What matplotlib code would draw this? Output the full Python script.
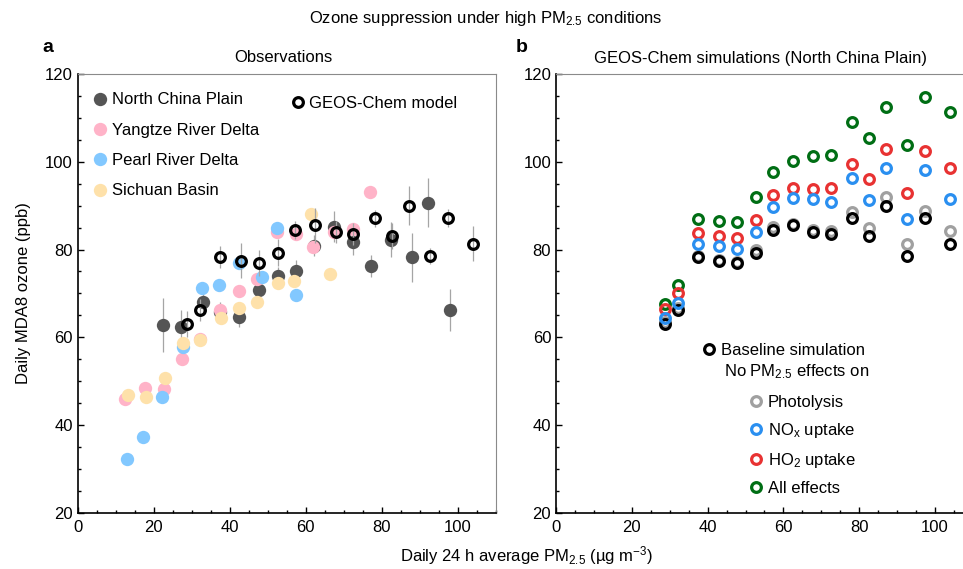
import numpy as np
import matplotlib
matplotlib.use("Agg")
from matplotlib import pyplot as plt
from matplotlib.lines import Line2D

plt.rcParams['font.family'] = ['Liberation Sans', 'DejaVu Sans']
plt.rcParams['mathtext.fontset'] = 'custom'
plt.rcParams['mathtext.rm'] = 'Liberation Sans'
plt.rcParams['mathtext.it'] = 'Liberation Sans:italic'
plt.rcParams['font.size'] = 12

# observations (panel a)
x_ncp = [22.5, 27.2, 33.1, 37.5, 42.5, 47.8, 52.6, 57.4, 62.3, 67.5, 72.5, 77.2, 82.4, 88.1, 92.3, 98.0]
ncp = [62.8, 62.3, 68.0, 65.8, 64.7, 70.8, 74.0, 75.2, 80.9, 85.2, 81.8, 76.3, 82.2, 78.2, 90.7, 66.2]
ncp_err = [6.2, 4.0, 3.0, 2.3, 2.3, 3.5, 2.0, 2.5, 2.3, 3.6, 3.0, 2.5, 4.0, 5.5, 5.5, 4.7]

x_yrd = [12.4, 17.7, 22.8, 27.5, 32.2, 37.4, 42.4, 47.3, 52.4, 57.4, 62.0, 67.4, 72.4, 76.9]
yrd = [45.9, 48.4, 48.2, 55.0, 59.5, 66.2, 70.6, 73.3, 83.9, 83.5, 80.6, 84.1, 84.6, 93.2]

x_prd = [13.1, 17.3, 22.2, 27.6, 32.6, 37.2, 42.4, 48.4, 52.4, 57.4]
prd = [32.2, 37.4, 46.5, 57.9, 71.2, 71.8, 76.9, 73.7, 84.8, 69.7]

x_sb = [13.3, 17.9, 23.0, 27.6, 32.2, 37.6, 42.5, 47.1, 52.7, 56.9, 61.3, 66.4]
sb = [46.9, 46.5, 50.8, 58.8, 59.4, 64.3, 66.6, 68.1, 72.4, 72.8, 88.2, 74.4]

# GEOS-Chem (panel b, baseline also in panel a)
x_sim = [28.8, 32.1, 37.5, 43.0, 47.8, 52.8, 57.3, 62.5, 67.9, 72.5, 78.2, 82.7, 87.1, 92.7, 97.4, 104.0]
baseline = [63.0, 66.2, 78.2, 77.4, 76.9, 79.3, 84.4, 85.5, 84.0, 83.6, 87.1, 83.1, 90.0, 78.5, 87.2, 81.3]
model_err = [3.0, 2.5, 2.5, 4.0, 3.0, 3.0, 2.0, 4.0, 2.5, 2.5, 2.0, 3.0, 4.5, 1.8, 2.0, 4.0]
photolysis = [63.4, 66.7, 78.5, 77.7, 77.2, 79.9, 85.2, 85.8, 84.4, 84.3, 88.6, 85.0, 92.0, 81.3, 88.8, 84.3]
nox = [64.3, 67.9, 81.3, 80.9, 80.1, 84.1, 89.6, 91.8, 91.4, 90.8, 96.2, 91.3, 98.6, 87.0, 98.1, 91.4]
ho2 = [66.4, 70.0, 83.8, 83.1, 82.7, 86.7, 92.4, 94.1, 93.8, 93.9, 99.4, 96.1, 102.8, 92.9, 102.4, 98.5]
all_eff = [67.5, 71.8, 86.9, 86.6, 86.2, 92.0, 97.7, 100.1, 101.2, 101.5, 109.1, 105.5, 112.5, 103.7, 114.7, 111.3]

c_ncp, c_yrd, c_prd, c_sb = '#555555', '#FFB3C8', '#82C8FF', '#FEE1AA'
c_pho, c_nox, c_ho2, c_all = '#A0A0A0', '#2A8FF0', '#E83232', '#006E14'

fig = plt.figure(figsize=(9.63, 5.69), dpi=100)
W, H = 963.0, 569.0
ax1 = fig.add_axes([77.7 / W, 56.1 / H, 418.0 / W, 439.0 / H])
ax2 = fig.add_axes([556.0 / W, 56.1 / H, 416.9 / W, 439.0 / H])


def style(ax):
    ax.set_xlim(0, 110)
    ax.set_ylim(20, 120)
    ax.set_xticks(np.arange(0, 101, 20))
    ax.set_yticks(np.arange(20, 121, 20))
    ax.set_xticks(np.arange(0, 111, 5), minor=True)
    ax.set_yticks(np.arange(20, 121, 5), minor=True)
    ax.tick_params(which='both', direction='in', labelsize=12, width=1)
    ax.tick_params(which='major', length=4)
    ax.tick_params(which='minor', length=2.5)
    ax.tick_params(axis='x', pad=5)
    for s in ['top', 'right']:
        ax.spines[s].set_color('#8a8a8a')
    for s in ['left', 'bottom']:
        ax.spines[s].set_linewidth(1.2)


style(ax1)
style(ax2)

# panel a
ms_f = 9.6
ax1.errorbar(x_ncp, ncp, yerr=ncp_err, fmt='none', ecolor='#a5a5a5', elinewidth=0.9, zorder=1)
ax1.plot(x_ncp, ncp, 'o', color=c_ncp, ms=ms_f, mew=0, zorder=2)
ax1.plot(x_yrd, yrd, 'o', color=c_yrd, ms=ms_f, mew=0, zorder=3)
ax1.plot(x_prd, prd, 'o', color=c_prd, ms=ms_f, mew=0, zorder=4)
ax1.plot(x_sb, sb, 'o', color=c_sb, ms=ms_f, mew=0, zorder=5)
ax1.errorbar(x_sim, baseline, yerr=model_err, fmt='none', ecolor='#a5a5a5', elinewidth=0.9, zorder=6)
ax1.plot(x_sim, baseline, 'o', mfc='none', mec='black', ms=7, mew=2.3, zorder=7)

h = [Line2D([], [], marker='o', ls='', color=c, ms=ms_f, mew=0) for c in [c_ncp, c_yrd, c_prd, c_sb]]
leg1 = ax1.legend(h, ['North China Plain', 'Yangtze River Delta', 'Pearl River Delta', 'Sichuan Basin'],
                  loc='upper left', bbox_to_anchor=(0.034, 0.958), frameon=False, borderpad=0,
                  borderaxespad=0, handlelength=1.0, handletextpad=0.2, labelspacing=0.92, fontsize=12)
ax1.add_artist(leg1)
hg = Line2D([], [], marker='o', ls='', mfc='none', mec='black', ms=7, mew=2.3)
ax1.legend([hg], ['GEOS-Chem model'], loc='upper left', bbox_to_anchor=(0.506, 0.950), frameon=False,
           borderpad=0, borderaxespad=0, handlelength=1.0, handletextpad=0.2, fontsize=12)

ax1.set_ylabel('Daily MDA8 ozone (ppb)', fontsize=12, labelpad=10)

# panel b
kw = dict(ls='', marker='o', mfc='none', ms=7, mew=2.3)
ax2.plot(x_sim, photolysis, mec=c_pho, zorder=2, **kw)
ax2.plot(x_sim, baseline, mec='black', zorder=3, **kw)
ax2.plot(x_sim, all_eff, mec=c_all, zorder=4, **kw)
ax2.plot(x_sim, ho2, mec=c_ho2, zorder=5, **kw)
ax2.plot(x_sim, nox, mec=c_nox, zorder=6, **kw)

hb = Line2D([], [], mec='black', **kw)
legb = ax2.legend([hb], ['Baseline simulation'], loc='upper left', bbox_to_anchor=(0.347, 0.387),
                  frameon=False, borderpad=0, borderaxespad=0, handlelength=1.0, handletextpad=0.2,
                  fontsize=12)
ax2.add_artist(legb)
ax2.text(0.403, 0.322, 'No PM$_{2.5}$ effects on', transform=ax2.transAxes, fontsize=12,
         ha='left', va='center')
hs = [Line2D([], [], mec=c, **kw) for c in [c_pho, c_nox, c_ho2, c_all]]
ax2.legend(hs, ['Photolysis', 'NO$_\\mathrm{x}$ uptake', 'HO$_2$ uptake', 'All effects'], loc='upper left',
           bbox_to_anchor=(0.46, 0.269), frameon=False, borderpad=0, borderaxespad=0,
           handlelength=1.0, handletextpad=0.2, labelspacing=0.66, fontsize=12)

fig.text(283.0 / W, 1 - 58.0 / H, 'Observations', ha='center', va='center')
fig.text(760.0 / W, 1 - 58.0 / H, 'GEOS-Chem simulations (North China Plain)', ha='center', va='center')
fig.text(42.0 / W, 1 - 48.0 / H, 'a', fontsize=14, fontweight='bold', ha='left', va='center')
fig.text(516.0 / W, 1 - 48.0 / H, 'b', fontsize=14, fontweight='bold', ha='left', va='center')
fig.text(486.0 / W, 1 - 19.0 / H, 'Ozone suppression under high PM$_{2.5}$ conditions', ha='center', va='center')
fig.text(526.0 / W, 1 - 556.0 / H, 'Daily 24 h average PM$_{2.5}$ (\u00b5g m$^{-3}$)', ha='center', va='center')

fig.savefig('out.png', dpi=100)
